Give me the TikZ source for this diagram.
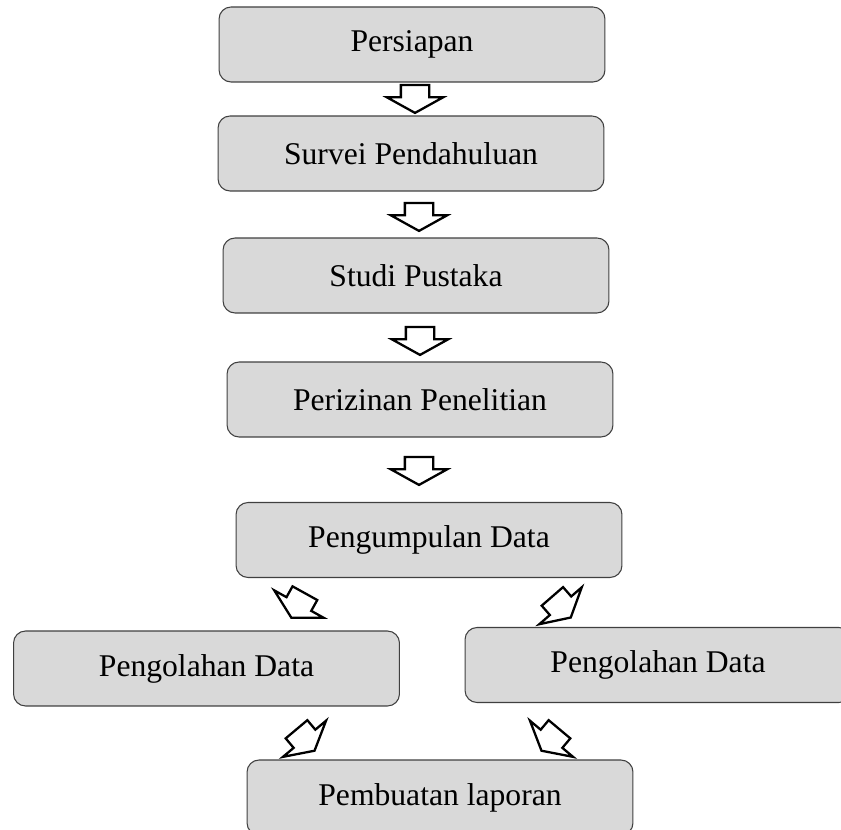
\documentclass[tikz,border=0pt]{standalone}
\usepackage{fontspec}
\setmainfont{Liberation Serif}
\usetikzlibrary{shapes.arrows}
\tikzset{
	kotak/.style={draw=black!75, fill=black!15, line width=0.6pt, rounded corners=0.24cm,
		minimum height=1.5cm, minimum width=7.72cm, font=\fontsize{18}{22}\selectfont},
	panah/.style={single arrow, draw=black, fill=white, line width=1.3pt, inner xsep=0pt,
		inner ysep=0.26cm, minimum height=0.56cm, single arrow head extend=0.28cm,
		single arrow tip angle=122}
}

\begin{document}
\begin{tikzpicture}[x=0.02cm, y=-0.02cm]
		%%%%% START %%%%%
		\useasboundingbox (0,0) rectangle (841,830);
		
		\node[kotak] (persiapan) at (412, 44.5) {Persiapan};
		\node[kotak] (survei) at (411, 153.5) {Survei Pendahuluan};
		\node[kotak] (studi) at (416, 275.5) {Studi Pustaka};
		\node[kotak] (izin) at (420, 399.5) {Perizinan Penelitian};
		\node[kotak] (kumpul) at (429, 540) {Pengumpulan Data};
		\node[kotak] (olahkiri) at (206.5, 668.5) {Pengolahan Data};
		\node[kotak] (olahkanan) at (658, 665) {Pengolahan Data};
		\node[kotak] (laporan) at (440, 797.5) {Pembuatan laporan};
		
		\node[panah, rotate=-90] (p1) at (415, 95) {};
		\node[panah, rotate=-90] (p2) at (419, 213) {};
		\node[panah, rotate=-90] (p3) at (420, 337) {};
		\node[panah, rotate=-90] (p4) at (419, 467) {};
		
		\node[panah, rotate=-119] (p5) at (300, 602) {};
		\node[panah, rotate=-49] (p6) at (559, 604) {};
		\node[panah, rotate=-50] (p7) at (303, 737) {};
		\node[panah, rotate=-130] (p8) at (553, 737) {};
		
		%%%%% END %%%%%
	\end{tikzpicture}
\end{document}
